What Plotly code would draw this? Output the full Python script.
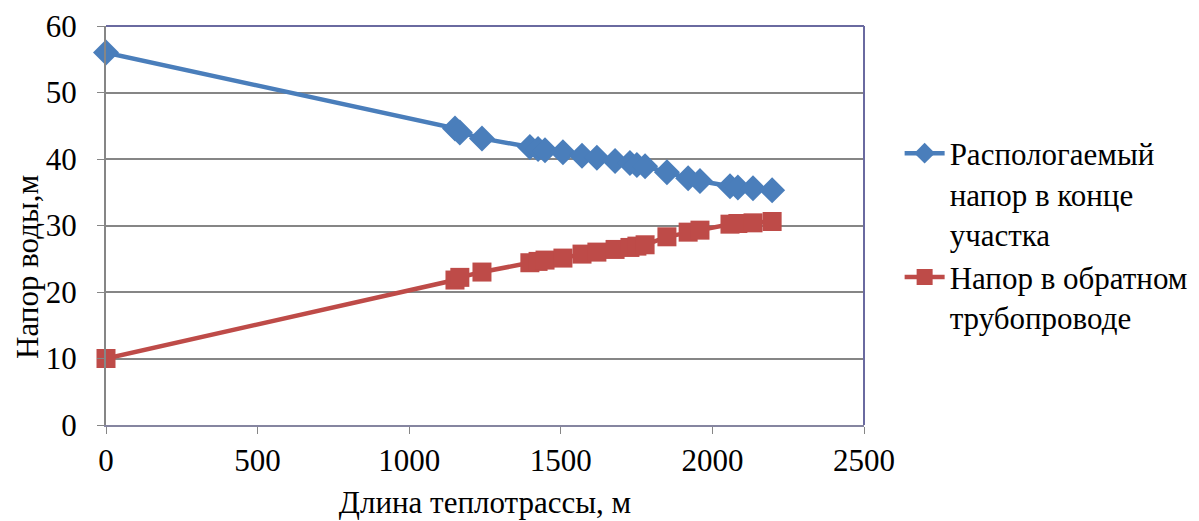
import plotly.graph_objects as go

length_m = [0, 1151, 1167, 1240, 1398, 1425, 1448, 1507, 1570, 1619, 1679, 1728, 1751, 1778,
            1850, 1920, 1959, 2058, 2084, 2134, 2197]
available_head = [56.0, 44.6, 44.0, 43.1, 41.8, 41.5, 41.3, 41.0, 40.5, 40.2, 39.7, 39.4, 39.1, 38.9,
                  38.0, 37.1, 36.7, 35.9, 35.7, 35.6, 35.3]
return_head = [10.0, 21.8, 22.2, 23.0, 24.4, 24.6, 24.8, 25.1, 25.7, 26.0, 26.4, 26.7, 26.9, 27.1,
               28.3, 29.0, 29.3, 30.2, 30.3, 30.4, 30.6]

series_names = ["Распологаемый<br>напор в конце<br>участка", "Напор в обратном<br>трубопроводе"]
x_title = "Длина теплотрассы, м"
y_title = "Напор воды,м"

x_ticks = [0, 500, 1000, 1500, 2000, 2500]
y_ticks = [0, 10, 20, 30, 40, 50, 60]

FONT = "Liberation Serif"
FS = 31

fig = go.Figure()
fig.add_trace(go.Scatter(
    x=length_m, y=available_head, name=series_names[0], mode="lines+markers",
    line=dict(color="#4a7ebb", width=4.5),
    marker=dict(symbol="diamond", size=20, color="#4a7ebb"),
    cliponaxis=False,
))
fig.add_trace(go.Scatter(
    x=length_m, y=return_head, name=series_names[1], mode="lines+markers",
    line=dict(color="#be4b48", width=4.5),
    marker=dict(symbol="square", size=19, color="#be4b48"),
    cliponaxis=False,
))

fig.update_layout(
    width=1199, height=521,
    margin=dict(l=106, r=335, t=26, b=96, autoexpand=False),
    paper_bgcolor="white", plot_bgcolor="white",
    font=dict(family=FONT, size=FS, color="black"),
    showlegend=True,
    legend=dict(x=1.047, y=0.748, xanchor="left", yanchor="top", valign="top",
                font=dict(family=FONT, size=FS, color="black"),
                tracegroupgap=39, itemwidth=40),
    shapes=[
        dict(type="line", xref="paper", yref="paper", x0=0, x1=1, y0=1, y1=1,
             line=dict(color="#6a6aa0", width=2)),
        dict(type="line", xref="paper", yref="paper", x0=1, x1=1, y0=0, y1=1,
             line=dict(color="#6a6aa0", width=2)),
    ],
    annotations=[
        dict(text=y_title, xref="paper", yref="paper", x=-0.103, y=0.396,
             textangle=-90, showarrow=False, xanchor="center", yanchor="middle",
             font=dict(family=FONT, size=FS, color="black")),
    ],
)
fig.update_xaxes(
    range=[0, 2500], tickvals=x_ticks, ticks="outside", ticklen=7, tickcolor="#868686",
    showline=True, linecolor="#8585a0", linewidth=2, showgrid=False, zeroline=False,
    tickfont=dict(family=FONT, size=FS), automargin=False,
    title=dict(text=x_title, standoff=14, font=dict(family=FONT, size=FS)),
)
fig.update_yaxes(
    range=[0, 60], tickvals=y_ticks, ticks="outside", ticklen=7, tickcolor="#868686",
    showline=True, linecolor="#868686", linewidth=2, showgrid=True, gridcolor="#868686", gridwidth=1.5,
    zeroline=False, tickfont=dict(family=FONT, size=FS), ticklabelstandoff=14, automargin=False,
)

fig.write_html("out.html", config={"displayModeBar": False},
               post_script="document.body.style.margin='0';")
